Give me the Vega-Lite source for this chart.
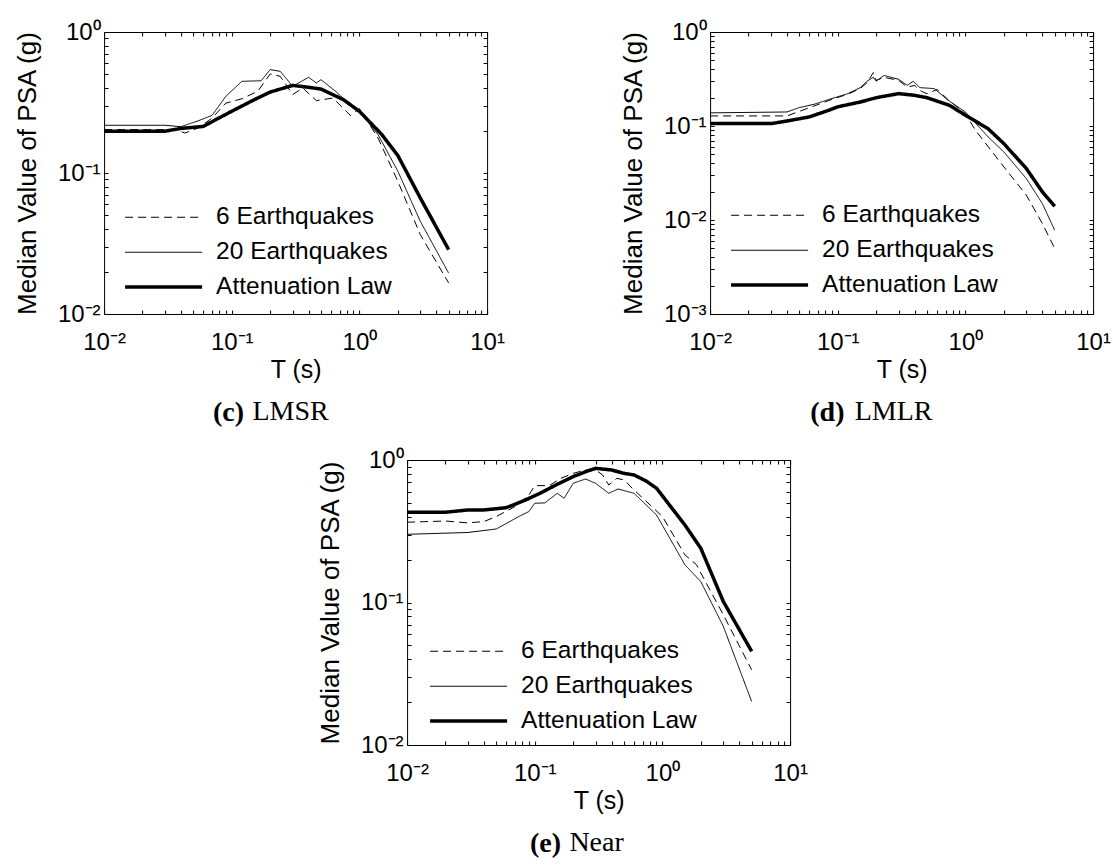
{
  "$schema": "https://vega.github.io/schema/vega-lite/v6.json",
  "background": "white",
  "padding": {"left": 13, "top": 19, "right": 0, "bottom": 5},
  "datasets": {
    "c": [
      {"T": 0.01, "psa": 0.198, "s": "Attenuation Law"},
      {"T": 0.02, "psa": 0.198, "s": "Attenuation Law"},
      {"T": 0.03, "psa": 0.198, "s": "Attenuation Law"},
      {"T": 0.04, "psa": 0.207, "s": "Attenuation Law"},
      {"T": 0.06, "psa": 0.214, "s": "Attenuation Law"},
      {"T": 0.075, "psa": 0.239, "s": "Attenuation Law"},
      {"T": 0.1, "psa": 0.274, "s": "Attenuation Law"},
      {"T": 0.15, "psa": 0.331, "s": "Attenuation Law"},
      {"T": 0.2, "psa": 0.375, "s": "Attenuation Law"},
      {"T": 0.3, "psa": 0.418, "s": "Attenuation Law"},
      {"T": 0.4, "psa": 0.405, "s": "Attenuation Law"},
      {"T": 0.5, "psa": 0.394, "s": "Attenuation Law"},
      {"T": 0.75, "psa": 0.331, "s": "Attenuation Law"},
      {"T": 1, "psa": 0.274, "s": "Attenuation Law"},
      {"T": 1.5, "psa": 0.187, "s": "Attenuation Law"},
      {"T": 2, "psa": 0.133, "s": "Attenuation Law"},
      {"T": 3, "psa": 0.0665, "s": "Attenuation Law"},
      {"T": 5, "psa": 0.0286, "s": "Attenuation Law"},
      {"T": 0.01, "psa": 0.218, "s": "20 Earthquakes"},
      {"T": 0.03, "psa": 0.218, "s": "20 Earthquakes"},
      {"T": 0.04, "psa": 0.213, "s": "20 Earthquakes"},
      {"T": 0.055, "psa": 0.235, "s": "20 Earthquakes"},
      {"T": 0.07, "psa": 0.256, "s": "20 Earthquakes"},
      {"T": 0.09, "psa": 0.35, "s": "20 Earthquakes"},
      {"T": 0.12, "psa": 0.447, "s": "20 Earthquakes"},
      {"T": 0.17, "psa": 0.451, "s": "20 Earthquakes"},
      {"T": 0.2, "psa": 0.541, "s": "20 Earthquakes"},
      {"T": 0.24, "psa": 0.526, "s": "20 Earthquakes"},
      {"T": 0.3, "psa": 0.412, "s": "20 Earthquakes"},
      {"T": 0.4, "psa": 0.477, "s": "20 Earthquakes"},
      {"T": 0.46, "psa": 0.435, "s": "20 Earthquakes"},
      {"T": 0.5, "psa": 0.459, "s": "20 Earthquakes"},
      {"T": 0.65, "psa": 0.38, "s": "20 Earthquakes"},
      {"T": 0.9, "psa": 0.289, "s": "20 Earthquakes"},
      {"T": 1, "psa": 0.274, "s": "20 Earthquakes"},
      {"T": 1.4, "psa": 0.187, "s": "20 Earthquakes"},
      {"T": 2, "psa": 0.103, "s": "20 Earthquakes"},
      {"T": 3, "psa": 0.0454, "s": "20 Earthquakes"},
      {"T": 5, "psa": 0.0195, "s": "20 Earthquakes"},
      {"T": 0.01, "psa": 0.203, "s": "6 Earthquakes"},
      {"T": 0.037, "psa": 0.203, "s": "6 Earthquakes"},
      {"T": 0.043, "psa": 0.192, "s": "6 Earthquakes"},
      {"T": 0.055, "psa": 0.209, "s": "6 Earthquakes"},
      {"T": 0.07, "psa": 0.245, "s": "6 Earthquakes"},
      {"T": 0.09, "psa": 0.313, "s": "6 Earthquakes"},
      {"T": 0.12, "psa": 0.336, "s": "6 Earthquakes"},
      {"T": 0.16, "psa": 0.38, "s": "6 Earthquakes"},
      {"T": 0.2, "psa": 0.504, "s": "6 Earthquakes"},
      {"T": 0.24, "psa": 0.485, "s": "6 Earthquakes"},
      {"T": 0.3, "psa": 0.36, "s": "6 Earthquakes"},
      {"T": 0.36, "psa": 0.401, "s": "6 Earthquakes"},
      {"T": 0.46, "psa": 0.326, "s": "6 Earthquakes"},
      {"T": 0.62, "psa": 0.34, "s": "6 Earthquakes"},
      {"T": 0.85, "psa": 0.256, "s": "6 Earthquakes"},
      {"T": 1, "psa": 0.286, "s": "6 Earthquakes"},
      {"T": 1.4, "psa": 0.177, "s": "6 Earthquakes"},
      {"T": 2, "psa": 0.0873, "s": "6 Earthquakes"},
      {"T": 3, "psa": 0.0365, "s": "6 Earthquakes"},
      {"T": 5, "psa": 0.0166, "s": "6 Earthquakes"}
    ],
    "d": [
      {"T": 0.01, "psa": 0.106, "s": "Attenuation Law"},
      {"T": 0.03, "psa": 0.106, "s": "Attenuation Law"},
      {"T": 0.04, "psa": 0.113, "s": "Attenuation Law"},
      {"T": 0.06, "psa": 0.125, "s": "Attenuation Law"},
      {"T": 0.085, "psa": 0.147, "s": "Attenuation Law"},
      {"T": 0.1, "psa": 0.16, "s": "Attenuation Law"},
      {"T": 0.15, "psa": 0.18, "s": "Attenuation Law"},
      {"T": 0.2, "psa": 0.2, "s": "Attenuation Law"},
      {"T": 0.3, "psa": 0.221, "s": "Attenuation Law"},
      {"T": 0.4, "psa": 0.212, "s": "Attenuation Law"},
      {"T": 0.5, "psa": 0.2, "s": "Attenuation Law"},
      {"T": 0.75, "psa": 0.166, "s": "Attenuation Law"},
      {"T": 1, "psa": 0.13, "s": "Attenuation Law"},
      {"T": 1.5, "psa": 0.094, "s": "Attenuation Law"},
      {"T": 2, "psa": 0.065, "s": "Attenuation Law"},
      {"T": 3, "psa": 0.0353, "s": "Attenuation Law"},
      {"T": 4, "psa": 0.02, "s": "Attenuation Law"},
      {"T": 5, "psa": 0.014, "s": "Attenuation Law"},
      {"T": 0.01, "psa": 0.138, "s": "20 Earthquakes"},
      {"T": 0.04, "psa": 0.141, "s": "20 Earthquakes"},
      {"T": 0.05, "psa": 0.157, "s": "20 Earthquakes"},
      {"T": 0.065, "psa": 0.17, "s": "20 Earthquakes"},
      {"T": 0.09, "psa": 0.196, "s": "20 Earthquakes"},
      {"T": 0.12, "psa": 0.221, "s": "20 Earthquakes"},
      {"T": 0.15, "psa": 0.256, "s": "20 Earthquakes"},
      {"T": 0.17, "psa": 0.3, "s": "20 Earthquakes"},
      {"T": 0.19, "psa": 0.33, "s": "20 Earthquakes"},
      {"T": 0.2, "psa": 0.3, "s": "20 Earthquakes"},
      {"T": 0.23, "psa": 0.345, "s": "20 Earthquakes"},
      {"T": 0.3, "psa": 0.314, "s": "20 Earthquakes"},
      {"T": 0.35, "psa": 0.271, "s": "20 Earthquakes"},
      {"T": 0.39, "psa": 0.299, "s": "20 Earthquakes"},
      {"T": 0.44, "psa": 0.256, "s": "20 Earthquakes"},
      {"T": 0.57, "psa": 0.25, "s": "20 Earthquakes"},
      {"T": 0.73, "psa": 0.188, "s": "20 Earthquakes"},
      {"T": 1, "psa": 0.141, "s": "20 Earthquakes"},
      {"T": 1.5, "psa": 0.077, "s": "20 Earthquakes"},
      {"T": 2, "psa": 0.053, "s": "20 Earthquakes"},
      {"T": 3, "psa": 0.0276, "s": "20 Earthquakes"},
      {"T": 4, "psa": 0.015, "s": "20 Earthquakes"},
      {"T": 5, "psa": 0.0078, "s": "20 Earthquakes"},
      {"T": 0.01, "psa": 0.128, "s": "6 Earthquakes"},
      {"T": 0.04, "psa": 0.128, "s": "6 Earthquakes"},
      {"T": 0.05, "psa": 0.143, "s": "6 Earthquakes"},
      {"T": 0.065, "psa": 0.163, "s": "6 Earthquakes"},
      {"T": 0.09, "psa": 0.192, "s": "6 Earthquakes"},
      {"T": 0.12, "psa": 0.218, "s": "6 Earthquakes"},
      {"T": 0.15, "psa": 0.25, "s": "6 Earthquakes"},
      {"T": 0.17, "psa": 0.29, "s": "6 Earthquakes"},
      {"T": 0.19, "psa": 0.37, "s": "6 Earthquakes"},
      {"T": 0.2, "psa": 0.305, "s": "6 Earthquakes"},
      {"T": 0.23, "psa": 0.33, "s": "6 Earthquakes"},
      {"T": 0.3, "psa": 0.305, "s": "6 Earthquakes"},
      {"T": 0.35, "psa": 0.26, "s": "6 Earthquakes"},
      {"T": 0.4, "psa": 0.27, "s": "6 Earthquakes"},
      {"T": 0.45, "psa": 0.235, "s": "6 Earthquakes"},
      {"T": 0.5, "psa": 0.22, "s": "6 Earthquakes"},
      {"T": 0.6, "psa": 0.245, "s": "6 Earthquakes"},
      {"T": 0.75, "psa": 0.185, "s": "6 Earthquakes"},
      {"T": 1, "psa": 0.135, "s": "6 Earthquakes"},
      {"T": 1.2, "psa": 0.09, "s": "6 Earthquakes"},
      {"T": 2, "psa": 0.0367, "s": "6 Earthquakes"},
      {"T": 3, "psa": 0.0184, "s": "6 Earthquakes"},
      {"T": 4, "psa": 0.0092, "s": "6 Earthquakes"},
      {"T": 5, "psa": 0.005, "s": "6 Earthquakes"}
    ],
    "e": [
      {"T": 0.01, "psa": 0.43, "s": "Attenuation Law"},
      {"T": 0.02, "psa": 0.43, "s": "Attenuation Law"},
      {"T": 0.03, "psa": 0.446, "s": "Attenuation Law"},
      {"T": 0.04, "psa": 0.446, "s": "Attenuation Law"},
      {"T": 0.06, "psa": 0.463, "s": "Attenuation Law"},
      {"T": 0.085, "psa": 0.525, "s": "Attenuation Law"},
      {"T": 0.11, "psa": 0.584, "s": "Attenuation Law"},
      {"T": 0.15, "psa": 0.675, "s": "Attenuation Law"},
      {"T": 0.2, "psa": 0.764, "s": "Attenuation Law"},
      {"T": 0.25, "psa": 0.828, "s": "Attenuation Law"},
      {"T": 0.3, "psa": 0.874, "s": "Attenuation Law"},
      {"T": 0.4, "psa": 0.851, "s": "Attenuation Law"},
      {"T": 0.5, "psa": 0.806, "s": "Attenuation Law"},
      {"T": 0.6, "psa": 0.785, "s": "Attenuation Law"},
      {"T": 0.75, "psa": 0.71, "s": "Attenuation Law"},
      {"T": 0.9, "psa": 0.633, "s": "Attenuation Law"},
      {"T": 1.5, "psa": 0.35, "s": "Attenuation Law"},
      {"T": 2, "psa": 0.24, "s": "Attenuation Law"},
      {"T": 3, "psa": 0.1016, "s": "Attenuation Law"},
      {"T": 5, "psa": 0.0454, "s": "Attenuation Law"},
      {"T": 0.01, "psa": 0.301, "s": "20 Earthquakes"},
      {"T": 0.03, "psa": 0.31, "s": "20 Earthquakes"},
      {"T": 0.05, "psa": 0.328, "s": "20 Earthquakes"},
      {"T": 0.075, "psa": 0.401, "s": "20 Earthquakes"},
      {"T": 0.09, "psa": 0.435, "s": "20 Earthquakes"},
      {"T": 0.1, "psa": 0.497, "s": "20 Earthquakes"},
      {"T": 0.12, "psa": 0.5, "s": "20 Earthquakes"},
      {"T": 0.15, "psa": 0.584, "s": "20 Earthquakes"},
      {"T": 0.17, "psa": 0.539, "s": "20 Earthquakes"},
      {"T": 0.2, "psa": 0.686, "s": "20 Earthquakes"},
      {"T": 0.25, "psa": 0.736, "s": "20 Earthquakes"},
      {"T": 0.3, "psa": 0.686, "s": "20 Earthquakes"},
      {"T": 0.38, "psa": 0.584, "s": "20 Earthquakes"},
      {"T": 0.45, "psa": 0.626, "s": "20 Earthquakes"},
      {"T": 0.6, "psa": 0.584, "s": "20 Earthquakes"},
      {"T": 0.9, "psa": 0.411, "s": "20 Earthquakes"},
      {"T": 1.5, "psa": 0.184, "s": "20 Earthquakes"},
      {"T": 2, "psa": 0.14, "s": "20 Earthquakes"},
      {"T": 3, "psa": 0.068, "s": "20 Earthquakes"},
      {"T": 5, "psa": 0.0202, "s": "20 Earthquakes"},
      {"T": 0.01, "psa": 0.366, "s": "6 Earthquakes"},
      {"T": 0.02, "psa": 0.373, "s": "6 Earthquakes"},
      {"T": 0.03, "psa": 0.362, "s": "6 Earthquakes"},
      {"T": 0.04, "psa": 0.37, "s": "6 Earthquakes"},
      {"T": 0.05, "psa": 0.401, "s": "6 Earthquakes"},
      {"T": 0.07, "psa": 0.471, "s": "6 Earthquakes"},
      {"T": 0.09, "psa": 0.568, "s": "6 Earthquakes"},
      {"T": 0.1, "psa": 0.661, "s": "6 Earthquakes"},
      {"T": 0.13, "psa": 0.661, "s": "6 Earthquakes"},
      {"T": 0.16, "psa": 0.744, "s": "6 Earthquakes"},
      {"T": 0.2, "psa": 0.806, "s": "6 Earthquakes"},
      {"T": 0.25, "psa": 0.851, "s": "6 Earthquakes"},
      {"T": 0.3, "psa": 0.851, "s": "6 Earthquakes"},
      {"T": 0.34, "psa": 0.785, "s": "6 Earthquakes"},
      {"T": 0.38, "psa": 0.668, "s": "6 Earthquakes"},
      {"T": 0.44, "psa": 0.744, "s": "6 Earthquakes"},
      {"T": 0.5, "psa": 0.724, "s": "6 Earthquakes"},
      {"T": 0.6, "psa": 0.616, "s": "6 Earthquakes"},
      {"T": 1, "psa": 0.401, "s": "6 Earthquakes"},
      {"T": 1.5, "psa": 0.216, "s": "6 Earthquakes"},
      {"T": 1.85, "psa": 0.184, "s": "6 Earthquakes"},
      {"T": 2, "psa": 0.161, "s": "6 Earthquakes"},
      {"T": 3, "psa": 0.082, "s": "6 Earthquakes"},
      {"T": 5, "psa": 0.0337, "s": "6 Earthquakes"}
    ]
  },
  "vconcat": [
    {
      "hconcat": [
        {
          "vconcat": [
            {
              "width": 383,
              "height": 282,
              "data": {"name": "c"},
              "title": {"text": "LMSR", "orient": "bottom", "anchor": "middle", "frame": "group", "font": "Liberation Serif", "fontSize": 28, "fontWeight": "normal", "color": "black", "offset": 16, "dx": -5},
              "layer": [
                {
                  "mark": {"type": "line", "color": "black"},
                  "encoding": {
                    "x": {"field": "T", "type": "quantitative", "scale": {"type": "log", "domain": [0.01, 10], "nice": false},
                      "axis": {"orient": "bottom", "values": [0.01,0.02,0.03,0.04,0.05,0.06,0.07,0.08,0.09,0.1,0.2,0.3,0.4,0.5,0.6,0.7,0.8,0.9,1,2,3,4,5,6,7,8,9,10],
                        "labelExpr": "datum.value == 0.001 ? '10⁻³' : datum.value == 0.01 ? '10⁻²' : datum.value == 0.1 ? '10⁻¹' : datum.value == 1 ? '10⁰' : datum.value == 10 ? '10¹' : ''",
                        "tickSize": -4, "tickColor": "black", "domain": false, "grid": false,
                        "labelFont": "Liberation Sans", "labelFontSize": 24, "labelColor": "black", "labelPadding": 20,
                        "labelOverlap": false, "labelBound": false, "labelFlush": false,
                        "title": "T (s)", "titleFont": "Liberation Sans", "titleFontSize": 25, "titleFontWeight": "normal", "titleColor": "black", "titlePadding": 3}},
                    "y": {"field": "psa", "type": "quantitative", "scale": {"type": "log", "domain": [0.01, 1], "nice": false},
                      "axis": {"orient": "left", "values": [0.01,0.02,0.03,0.04,0.05,0.06,0.07,0.08,0.09,0.1,0.2,0.3,0.4,0.5,0.6,0.7,0.8,0.9,1],
                        "labelExpr": "datum.value == 0.001 ? '10⁻³' : datum.value == 0.01 ? '10⁻²' : datum.value == 0.1 ? '10⁻¹' : datum.value == 1 ? '10⁰' : datum.value == 10 ? '10¹' : ''",
                        "tickSize": -4, "tickColor": "black", "domain": false, "grid": false,
                        "labelFont": "Liberation Sans", "labelFontSize": 24, "labelColor": "black", "labelPadding": 8,
                        "labelOverlap": false, "labelBound": false, "labelFlush": false,
                        "title": "Median Value of PSA (g)", "titleFont": "Liberation Sans", "titleFontSize": 26, "titleFontWeight": "normal", "titleColor": "black", "titlePadding": 17}},
                    "strokeDash": {"field": "s", "type": "nominal",
                      "scale": {"domain": ["6 Earthquakes", "20 Earthquakes", "Attenuation Law"], "range": [[8, 5], [1, 0], [1, 0]]},
                      "legend": {"title": null, "orient": "none", "legendX": 21, "legendY": 173, "symbolType": "M-6,0H1", "symbolSize": 484, "symbolStrokeColor": "black", "symbolOffset": 53, "labelOffset": 12, "labelLimit": 400, "labelFont": "Liberation Sans", "labelFontSize": 24.5, "labelColor": "black", "rowPadding": 10, "padding": 0}},
                    "strokeWidth": {"field": "s", "type": "ordinal",
                      "scale": {"type": "ordinal", "domain": ["6 Earthquakes", "20 Earthquakes", "Attenuation Law"], "range": [1, 1, 3.5]},
                      "legend": {"title": null, "orient": "none", "legendX": 21, "legendY": 173, "symbolType": "M-6,0H1", "symbolSize": 484, "symbolStrokeColor": "black", "symbolOffset": 53, "labelOffset": 12, "labelLimit": 400, "labelFont": "Liberation Sans", "labelFontSize": 24.5, "labelColor": "black", "rowPadding": 10, "padding": 0}}
                  }
                },
                {
                  "mark": {"type": "point", "opacity": 0},
                  "encoding": {
                    "x": {"field": "T", "type": "quantitative",
                      "axis": {"orient": "top", "values": [0.01,0.02,0.03,0.04,0.05,0.06,0.07,0.08,0.09,0.1,0.2,0.3,0.4,0.5,0.6,0.7,0.8,0.9,1,2,3,4,5,6,7,8,9,10], "labels": false, "title": null, "tickSize": -4, "tickColor": "black", "domain": false, "grid": false}},
                    "y": {"field": "psa", "type": "quantitative",
                      "axis": {"orient": "right", "values": [0.01,0.02,0.03,0.04,0.05,0.06,0.07,0.08,0.09,0.1,0.2,0.3,0.4,0.5,0.6,0.7,0.8,0.9,1], "labels": false, "title": null, "tickSize": -4, "tickColor": "black", "domain": false, "grid": false}}
                  }
                }
              ],
              "resolve": {"axis": {"x": "independent", "y": "independent"}}
            }
          ],
          "title": {"text": "(c)", "orient": "bottom", "anchor": "middle", "frame": "bounds", "font": "Liberation Serif", "fontSize": 28, "fontWeight": "bold", "color": "black", "offset": -28, "dx": -31},
          "resolve": {"scale": {"strokeDash": "independent", "strokeWidth": "independent"}, "legend": {"strokeDash": "independent", "strokeWidth": "independent"}}
        },
        {
          "vconcat": [
            {
              "width": 383,
              "height": 282,
              "data": {"name": "d"},
              "title": {"text": "LMLR", "orient": "bottom", "anchor": "middle", "frame": "group", "font": "Liberation Serif", "fontSize": 28, "fontWeight": "normal", "color": "black", "offset": 16, "dx": -8},
              "layer": [
                {
                  "mark": {"type": "line", "color": "black"},
                  "encoding": {
                    "x": {"field": "T", "type": "quantitative", "scale": {"type": "log", "domain": [0.01, 10], "nice": false},
                      "axis": {"orient": "bottom", "values": [0.01,0.02,0.03,0.04,0.05,0.06,0.07,0.08,0.09,0.1,0.2,0.3,0.4,0.5,0.6,0.7,0.8,0.9,1,2,3,4,5,6,7,8,9,10],
                        "labelExpr": "datum.value == 0.001 ? '10⁻³' : datum.value == 0.01 ? '10⁻²' : datum.value == 0.1 ? '10⁻¹' : datum.value == 1 ? '10⁰' : datum.value == 10 ? '10¹' : ''",
                        "tickSize": -4, "tickColor": "black", "domain": false, "grid": false,
                        "labelFont": "Liberation Sans", "labelFontSize": 24, "labelColor": "black", "labelPadding": 20,
                        "labelOverlap": false, "labelBound": false, "labelFlush": false,
                        "title": "T (s)", "titleFont": "Liberation Sans", "titleFontSize": 25, "titleFontWeight": "normal", "titleColor": "black", "titlePadding": 3}},
                    "y": {"field": "psa", "type": "quantitative", "scale": {"type": "log", "domain": [0.001, 1], "nice": false},
                      "axis": {"orient": "left", "values": [0.001,0.002,0.003,0.004,0.005,0.006,0.007,0.008,0.009,0.01,0.02,0.03,0.04,0.05,0.06,0.07,0.08,0.09,0.1,0.2,0.3,0.4,0.5,0.6,0.7,0.8,0.9,1],
                        "labelExpr": "datum.value == 0.001 ? '10⁻³' : datum.value == 0.01 ? '10⁻²' : datum.value == 0.1 ? '10⁻¹' : datum.value == 1 ? '10⁰' : datum.value == 10 ? '10¹' : ''",
                        "tickSize": -4, "tickColor": "black", "domain": false, "grid": false,
                        "labelFont": "Liberation Sans", "labelFontSize": 24, "labelColor": "black", "labelPadding": 8,
                        "labelOverlap": false, "labelBound": false, "labelFlush": false,
                        "title": "Median Value of PSA (g)", "titleFont": "Liberation Sans", "titleFontSize": 26, "titleFontWeight": "normal", "titleColor": "black", "titlePadding": 17}},
                    "strokeDash": {"field": "s", "type": "nominal",
                      "scale": {"domain": ["6 Earthquakes", "20 Earthquakes", "Attenuation Law"], "range": [[8, 5], [1, 0], [1, 0]]},
                      "legend": {"title": null, "orient": "none", "legendX": 21, "legendY": 171, "symbolType": "M-6,0H1", "symbolSize": 484, "symbolStrokeColor": "black", "symbolOffset": 53, "labelOffset": 12, "labelLimit": 400, "labelFont": "Liberation Sans", "labelFontSize": 24.5, "labelColor": "black", "rowPadding": 10, "padding": 0}},
                    "strokeWidth": {"field": "s", "type": "ordinal",
                      "scale": {"type": "ordinal", "domain": ["6 Earthquakes", "20 Earthquakes", "Attenuation Law"], "range": [1, 1, 3.5]},
                      "legend": {"title": null, "orient": "none", "legendX": 21, "legendY": 171, "symbolType": "M-6,0H1", "symbolSize": 484, "symbolStrokeColor": "black", "symbolOffset": 53, "labelOffset": 12, "labelLimit": 400, "labelFont": "Liberation Sans", "labelFontSize": 24.5, "labelColor": "black", "rowPadding": 10, "padding": 0}}
                  }
                },
                {
                  "mark": {"type": "point", "opacity": 0},
                  "encoding": {
                    "x": {"field": "T", "type": "quantitative",
                      "axis": {"orient": "top", "values": [0.01,0.02,0.03,0.04,0.05,0.06,0.07,0.08,0.09,0.1,0.2,0.3,0.4,0.5,0.6,0.7,0.8,0.9,1,2,3,4,5,6,7,8,9,10], "labels": false, "title": null, "tickSize": -4, "tickColor": "black", "domain": false, "grid": false}},
                    "y": {"field": "psa", "type": "quantitative",
                      "axis": {"orient": "right", "values": [0.001,0.002,0.003,0.004,0.005,0.006,0.007,0.008,0.009,0.01,0.02,0.03,0.04,0.05,0.06,0.07,0.08,0.09,0.1,0.2,0.3,0.4,0.5,0.6,0.7,0.8,0.9,1], "labels": false, "title": null, "tickSize": -4, "tickColor": "black", "domain": false, "grid": false}}
                  }
                }
              ],
              "resolve": {"axis": {"x": "independent", "y": "independent"}}
            }
          ],
          "title": {"text": "(d)", "orient": "bottom", "anchor": "middle", "frame": "bounds", "font": "Liberation Serif", "fontSize": 28, "fontWeight": "bold", "color": "black", "offset": -28, "dx": -38},
          "resolve": {"scale": {"strokeDash": "independent", "strokeWidth": "independent"}, "legend": {"strokeDash": "independent", "strokeWidth": "independent"}}
        }
      ],
      "spacing": 114,
      "resolve": {"scale": {"strokeDash": "independent", "strokeWidth": "independent"}, "legend": {"strokeDash": "independent", "strokeWidth": "independent"}}
    },
    {
      "vconcat": [
        {
          "width": 383,
          "height": 285,
          "data": {"name": "e"},
          "title": {"text": "Near", "orient": "bottom", "anchor": "middle", "frame": "group", "font": "Liberation Serif", "fontSize": 28, "fontWeight": "normal", "color": "black", "offset": 16, "dx": -2},
          "layer": [
            {
              "mark": {"type": "line", "color": "black"},
              "encoding": {
                "x": {"field": "T", "type": "quantitative", "scale": {"type": "log", "domain": [0.01, 10], "nice": false},
                  "axis": {"orient": "bottom", "values": [0.01,0.02,0.03,0.04,0.05,0.06,0.07,0.08,0.09,0.1,0.2,0.3,0.4,0.5,0.6,0.7,0.8,0.9,1,2,3,4,5,6,7,8,9,10],
                    "labelExpr": "datum.value == 0.001 ? '10⁻³' : datum.value == 0.01 ? '10⁻²' : datum.value == 0.1 ? '10⁻¹' : datum.value == 1 ? '10⁰' : datum.value == 10 ? '10¹' : ''",
                    "tickSize": -4, "tickColor": "black", "domain": false, "grid": false,
                    "labelFont": "Liberation Sans", "labelFontSize": 24, "labelColor": "black", "labelPadding": 20,
                    "labelOverlap": false, "labelBound": false, "labelFlush": false,
                    "title": "T (s)", "titleFont": "Liberation Sans", "titleFontSize": 25, "titleFontWeight": "normal", "titleColor": "black", "titlePadding": 3}},
                "y": {"field": "psa", "type": "quantitative", "scale": {"type": "log", "domain": [0.01, 1], "nice": false},
                  "axis": {"orient": "left", "values": [0.01,0.02,0.03,0.04,0.05,0.06,0.07,0.08,0.09,0.1,0.2,0.3,0.4,0.5,0.6,0.7,0.8,0.9,1],
                    "labelExpr": "datum.value == 0.001 ? '10⁻³' : datum.value == 0.01 ? '10⁻²' : datum.value == 0.1 ? '10⁻¹' : datum.value == 1 ? '10⁰' : datum.value == 10 ? '10¹' : ''",
                    "tickSize": -4, "tickColor": "black", "domain": false, "grid": false,
                    "labelFont": "Liberation Sans", "labelFontSize": 24, "labelColor": "black", "labelPadding": 8,
                    "labelOverlap": false, "labelBound": false, "labelFlush": false,
                    "title": "Median Value of PSA (g)", "titleFont": "Liberation Sans", "titleFontSize": 26, "titleFontWeight": "normal", "titleColor": "black", "titlePadding": 17}},
                "strokeDash": {"field": "s", "type": "nominal",
                  "scale": {"domain": ["6 Earthquakes", "20 Earthquakes", "Attenuation Law"], "range": [[8, 5], [1, 0], [1, 0]]},
                  "legend": {"title": null, "orient": "none", "legendX": 23, "legendY": 179, "symbolType": "M-6,0H1", "symbolSize": 484, "symbolStrokeColor": "black", "symbolOffset": 53, "labelOffset": 12, "labelLimit": 400, "labelFont": "Liberation Sans", "labelFontSize": 24.5, "labelColor": "black", "rowPadding": 10, "padding": 0}},
                "strokeWidth": {"field": "s", "type": "ordinal",
                  "scale": {"type": "ordinal", "domain": ["6 Earthquakes", "20 Earthquakes", "Attenuation Law"], "range": [1, 1, 3.5]},
                  "legend": {"title": null, "orient": "none", "legendX": 23, "legendY": 179, "symbolType": "M-6,0H1", "symbolSize": 484, "symbolStrokeColor": "black", "symbolOffset": 53, "labelOffset": 12, "labelLimit": 400, "labelFont": "Liberation Sans", "labelFontSize": 24.5, "labelColor": "black", "rowPadding": 10, "padding": 0}}
              }
            },
            {
              "mark": {"type": "point", "opacity": 0},
              "encoding": {
                "x": {"field": "T", "type": "quantitative",
                  "axis": {"orient": "top", "values": [0.01,0.02,0.03,0.04,0.05,0.06,0.07,0.08,0.09,0.1,0.2,0.3,0.4,0.5,0.6,0.7,0.8,0.9,1,2,3,4,5,6,7,8,9,10], "labels": false, "title": null, "tickSize": -4, "tickColor": "black", "domain": false, "grid": false}},
                "y": {"field": "psa", "type": "quantitative",
                  "axis": {"orient": "right", "values": [0.01,0.02,0.03,0.04,0.05,0.06,0.07,0.08,0.09,0.1,0.2,0.3,0.4,0.5,0.6,0.7,0.8,0.9,1], "labels": false, "title": null, "tickSize": -4, "tickColor": "black", "domain": false, "grid": false}}
              }
            }
          ],
          "resolve": {"axis": {"x": "independent", "y": "independent"}}
        }
      ],
      "title": {"text": "(e)", "orient": "bottom", "anchor": "middle", "frame": "bounds", "font": "Liberation Serif", "fontSize": 28, "fontWeight": "bold", "color": "black", "offset": -28, "dx": -17},
      "resolve": {"scale": {"strokeDash": "independent", "strokeWidth": "independent"}, "legend": {"strokeDash": "independent", "strokeWidth": "independent"}}
    }
  ],
  "spacing": 20,
  "center": true,
  "resolve": {"scale": {"strokeDash": "independent", "strokeWidth": "independent"}, "legend": {"strokeDash": "independent", "strokeWidth": "independent"}},
  "config": {
    "view": {"stroke": "black", "strokeWidth": 1},
    "font": "Liberation Sans",
    "axis": {"grid": false}
  }
}
